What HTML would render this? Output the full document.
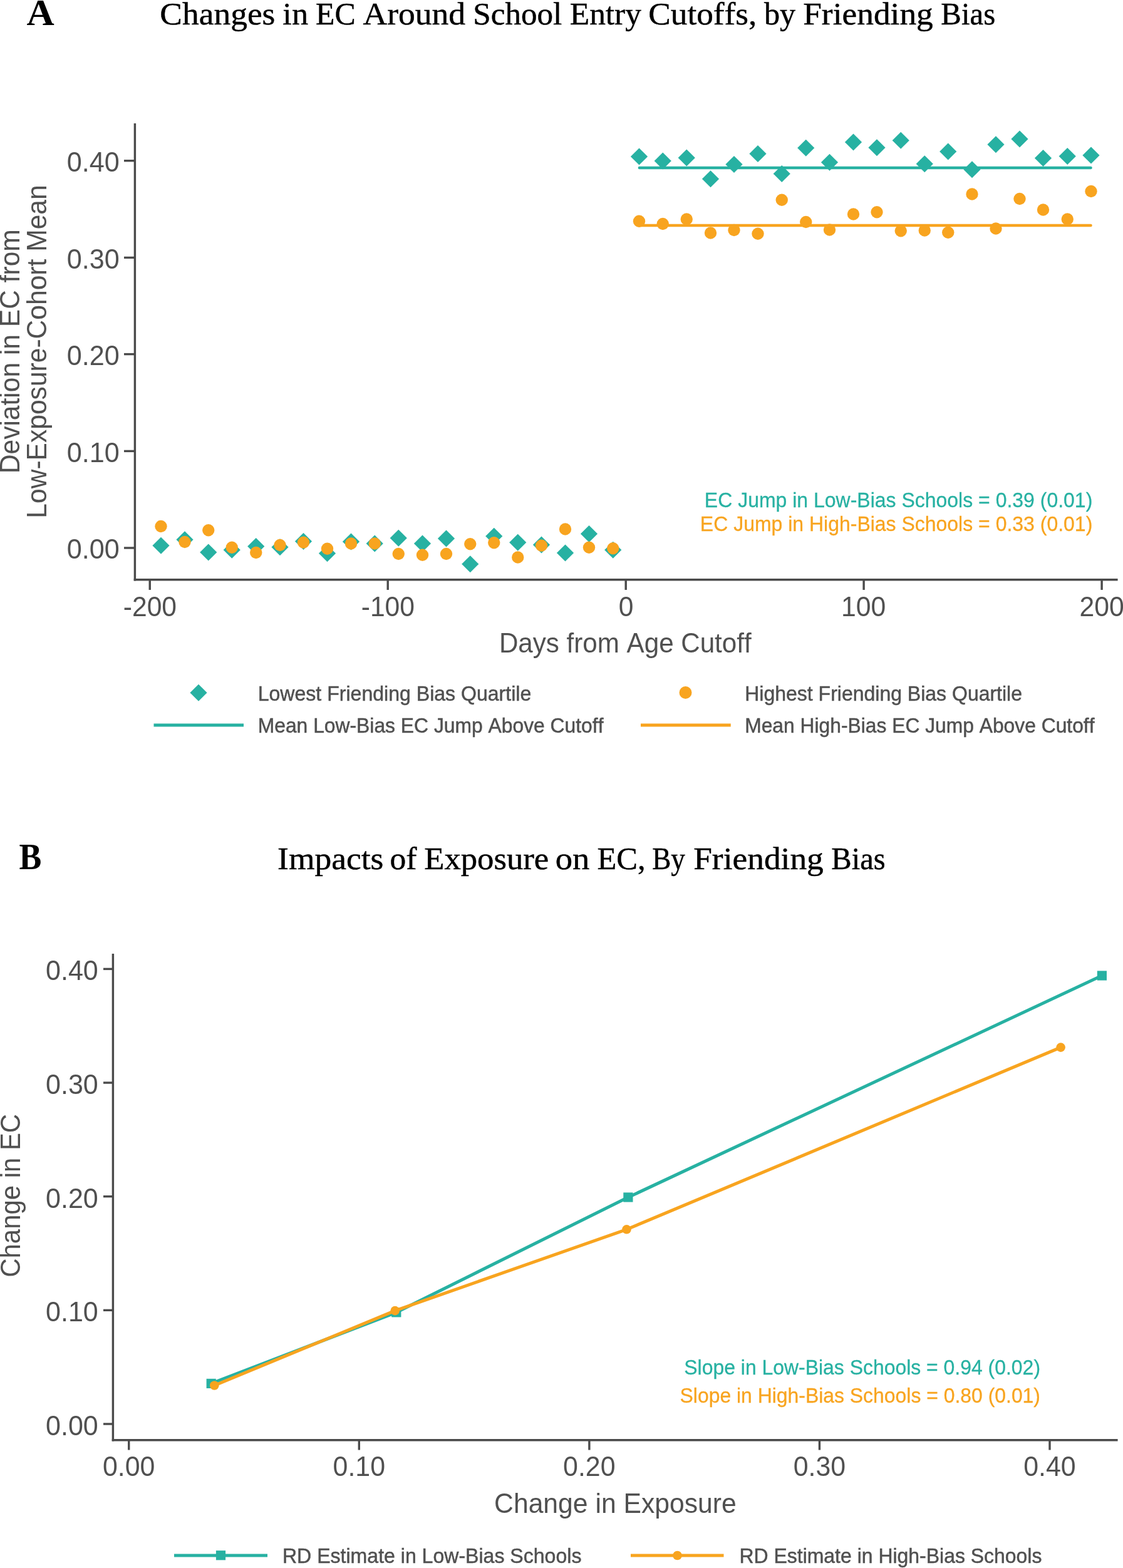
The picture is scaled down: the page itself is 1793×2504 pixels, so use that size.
<!DOCTYPE html>
<html><head><meta charset="utf-8"><title>Changes in EC Around School Entry Cutoffs, by Friending Bias</title>
<style>
html,body{margin:0;padding:0;background:#fff;}
body{width:1793px;height:2504px;overflow:hidden;}
svg{display:block;}
text{font-kerning:none;}
</style></head>
<body>
<svg width="1793" height="2504" viewBox="0 0 1793 2504">
<rect width="1793" height="2504" fill="#fff"/>
<text x="42.49" y="39.75" font-family="'Liberation Serif', 'Times New Roman', serif" font-weight="bold" font-size="60" fill="#000" textLength="44.20" lengthAdjust="spacingAndGlyphs">A</text>
<text x="255.30" y="39.30" font-family="'Liberation Serif', 'Times New Roman', serif" font-weight="normal" font-size="51" fill="#000" textLength="184.13" lengthAdjust="spacingAndGlyphs" stroke="#000" stroke-width="0.45">Changes</text>
<text x="451.37" y="39.30" font-family="'Liberation Serif', 'Times New Roman', serif" font-weight="normal" font-size="51" fill="#000" textLength="40.67" lengthAdjust="spacingAndGlyphs" stroke="#000" stroke-width="0.45">in</text>
<text x="504.03" y="39.30" font-family="'Liberation Serif', 'Times New Roman', serif" font-weight="normal" font-size="51" fill="#000" textLength="63.67" lengthAdjust="spacingAndGlyphs" stroke="#000" stroke-width="0.45">EC</text>
<text x="579.47" y="39.30" font-family="'Liberation Serif', 'Times New Roman', serif" font-weight="normal" font-size="51" fill="#000" textLength="163.67" lengthAdjust="spacingAndGlyphs" stroke="#000" stroke-width="0.45">Around</text>
<text x="755.35" y="39.30" font-family="'Liberation Serif', 'Times New Roman', serif" font-weight="normal" font-size="51" fill="#000" textLength="141.88" lengthAdjust="spacingAndGlyphs" stroke="#000" stroke-width="0.45">School</text>
<text x="909.74" y="39.30" font-family="'Liberation Serif', 'Times New Roman', serif" font-weight="normal" font-size="51" fill="#000" textLength="114.22" lengthAdjust="spacingAndGlyphs" stroke="#000" stroke-width="0.45">Entry</text>
<text x="1035.29" y="39.30" font-family="'Liberation Serif', 'Times New Roman', serif" font-weight="normal" font-size="51" fill="#000" textLength="173.09" lengthAdjust="spacingAndGlyphs" stroke="#000" stroke-width="0.45">Cutoffs,</text>
<text x="1220.00" y="39.30" font-family="'Liberation Serif', 'Times New Roman', serif" font-weight="normal" font-size="51" fill="#000" textLength="50.20" lengthAdjust="spacingAndGlyphs" stroke="#000" stroke-width="0.45">by</text>
<text x="1282.18" y="39.30" font-family="'Liberation Serif', 'Times New Roman', serif" font-weight="normal" font-size="51" fill="#000" textLength="207.64" lengthAdjust="spacingAndGlyphs" stroke="#000" stroke-width="0.45">Friending</text>
<text x="1502.31" y="39.30" font-family="'Liberation Serif', 'Times New Roman', serif" font-weight="normal" font-size="51" fill="#000" textLength="86.98" lengthAdjust="spacingAndGlyphs" stroke="#000" stroke-width="0.45">Bias</text>
<line x1="215.40" y1="197.00" x2="215.40" y2="927.50" stroke="#4a4a4a" stroke-width="3.4" stroke-linecap="butt"/>
<line x1="213.70" y1="925.80" x2="1784.60" y2="925.80" stroke="#4a4a4a" stroke-width="3.4" stroke-linecap="butt"/>
<line x1="198.00" y1="256.70" x2="215.00" y2="256.70" stroke="#4a4a4a" stroke-width="3.4" stroke-linecap="butt"/>
<text x="106.73" y="274.00" font-family="'Liberation Sans', Arial, sans-serif" font-weight="normal" font-size="44.0" fill="#505050" textLength="84.08" lengthAdjust="spacingAndGlyphs">0.40</text>
<line x1="198.00" y1="411.40" x2="215.00" y2="411.40" stroke="#4a4a4a" stroke-width="3.4" stroke-linecap="butt"/>
<text x="106.73" y="428.70" font-family="'Liberation Sans', Arial, sans-serif" font-weight="normal" font-size="44.0" fill="#505050" textLength="84.08" lengthAdjust="spacingAndGlyphs">0.30</text>
<line x1="198.00" y1="565.60" x2="215.00" y2="565.60" stroke="#4a4a4a" stroke-width="3.4" stroke-linecap="butt"/>
<text x="106.73" y="582.90" font-family="'Liberation Sans', Arial, sans-serif" font-weight="normal" font-size="44.0" fill="#505050" textLength="84.08" lengthAdjust="spacingAndGlyphs">0.20</text>
<line x1="198.00" y1="720.40" x2="215.00" y2="720.40" stroke="#4a4a4a" stroke-width="3.4" stroke-linecap="butt"/>
<text x="106.73" y="737.70" font-family="'Liberation Sans', Arial, sans-serif" font-weight="normal" font-size="44.0" fill="#505050" textLength="84.08" lengthAdjust="spacingAndGlyphs">0.10</text>
<line x1="198.00" y1="875.00" x2="215.00" y2="875.00" stroke="#4a4a4a" stroke-width="3.4" stroke-linecap="butt"/>
<text x="106.73" y="892.30" font-family="'Liberation Sans', Arial, sans-serif" font-weight="normal" font-size="44.0" fill="#505050" textLength="84.08" lengthAdjust="spacingAndGlyphs">0.00</text>
<line x1="239.25" y1="926.00" x2="239.25" y2="942.00" stroke="#4a4a4a" stroke-width="3.4" stroke-linecap="butt"/>
<text x="196.76" y="984.00" font-family="'Liberation Sans', Arial, sans-serif" font-weight="normal" font-size="44.0" fill="#505050" textLength="85.35" lengthAdjust="spacingAndGlyphs">-200</text>
<line x1="619.20" y1="926.00" x2="619.20" y2="942.00" stroke="#4a4a4a" stroke-width="3.4" stroke-linecap="butt"/>
<text x="576.71" y="984.00" font-family="'Liberation Sans', Arial, sans-serif" font-weight="normal" font-size="44.0" fill="#505050" textLength="85.35" lengthAdjust="spacingAndGlyphs">-100</text>
<line x1="999.20" y1="926.00" x2="999.20" y2="942.00" stroke="#4a4a4a" stroke-width="3.4" stroke-linecap="butt"/>
<text x="987.66" y="984.00" font-family="'Liberation Sans', Arial, sans-serif" font-weight="normal" font-size="44.0" fill="#505050" textLength="23.66" lengthAdjust="spacingAndGlyphs">0</text>
<line x1="1379.10" y1="926.00" x2="1379.10" y2="942.00" stroke="#4a4a4a" stroke-width="3.4" stroke-linecap="butt"/>
<text x="1343.00" y="984.00" font-family="'Liberation Sans', Arial, sans-serif" font-weight="normal" font-size="44.0" fill="#505050" textLength="71.26" lengthAdjust="spacingAndGlyphs">100</text>
<line x1="1759.10" y1="926.00" x2="1759.10" y2="942.00" stroke="#4a4a4a" stroke-width="3.4" stroke-linecap="butt"/>
<text x="1723.51" y="984.00" font-family="'Liberation Sans', Arial, sans-serif" font-weight="normal" font-size="44.0" fill="#505050" textLength="71.30" lengthAdjust="spacingAndGlyphs">200</text>
<text x="796.93" y="1042.20" font-family="'Liberation Sans', Arial, sans-serif" font-weight="normal" font-size="44.0" fill="#505050" textLength="402.76" lengthAdjust="spacingAndGlyphs">Days from Age Cutoff</text>
<text transform="rotate(-90)" x="-756.23" y="31.30" font-family="'Liberation Sans', Arial, sans-serif" font-weight="normal" font-size="44.0" fill="#505050" textLength="390.01" lengthAdjust="spacingAndGlyphs">Deviation in EC from</text>
<text transform="rotate(-90)" x="-827.68" y="73.60" font-family="'Liberation Sans', Arial, sans-serif" font-weight="normal" font-size="44.0" fill="#505050" textLength="532.35" lengthAdjust="spacingAndGlyphs">Low-Exposure-Cohort Mean</text>
<line x1="1021.00" y1="268.00" x2="1741.50" y2="268.00" stroke="#27b1a2" stroke-width="4.6" stroke-linecap="round"/>
<line x1="1021.00" y1="360.00" x2="1741.50" y2="360.00" stroke="#f8a41f" stroke-width="4.6" stroke-linecap="round"/>
<polygon points="257.00,857.65 270.60,871.25 257.00,884.85 243.40,871.25" fill="#27b1a2"/>
<polygon points="295.00,848.15 308.60,861.75 295.00,875.35 281.40,861.75" fill="#27b1a2"/>
<polygon points="332.75,868.40 346.35,882.00 332.75,895.60 319.15,882.00" fill="#27b1a2"/>
<polygon points="370.25,864.65 383.85,878.25 370.25,891.85 356.65,878.25" fill="#27b1a2"/>
<polygon points="408.75,858.90 422.35,872.50 408.75,886.10 395.15,872.50" fill="#27b1a2"/>
<polygon points="447.00,860.15 460.60,873.75 447.00,887.35 433.40,873.75" fill="#27b1a2"/>
<polygon points="484.50,850.90 498.10,864.50 484.50,878.10 470.90,864.50" fill="#27b1a2"/>
<polygon points="522.50,870.15 536.10,883.75 522.50,897.35 508.90,883.75" fill="#27b1a2"/>
<polygon points="560.50,851.40 574.10,865.00 560.50,878.60 546.90,865.00" fill="#27b1a2"/>
<polygon points="598.25,854.40 611.85,868.00 598.25,881.60 584.65,868.00" fill="#27b1a2"/>
<polygon points="636.25,845.65 649.85,859.25 636.25,872.85 622.65,859.25" fill="#27b1a2"/>
<polygon points="674.50,854.40 688.10,868.00 674.50,881.60 660.90,868.00" fill="#27b1a2"/>
<polygon points="712.50,846.40 726.10,860.00 712.50,873.60 698.90,860.00" fill="#27b1a2"/>
<polygon points="750.75,887.15 764.35,900.75 750.75,914.35 737.15,900.75" fill="#27b1a2"/>
<polygon points="788.75,842.65 802.35,856.25 788.75,869.85 775.15,856.25" fill="#27b1a2"/>
<polygon points="826.75,852.65 840.35,866.25 826.75,879.85 813.15,866.25" fill="#27b1a2"/>
<polygon points="864.50,856.40 878.10,870.00 864.50,883.60 850.90,870.00" fill="#27b1a2"/>
<polygon points="902.50,869.40 916.10,883.00 902.50,896.60 888.90,883.00" fill="#27b1a2"/>
<polygon points="940.50,838.90 954.10,852.50 940.50,866.10 926.90,852.50" fill="#27b1a2"/>
<polygon points="978.75,864.65 992.35,878.25 978.75,891.85 965.15,878.25" fill="#27b1a2"/>
<polygon points="1020.50,236.40 1034.10,250.00 1020.50,263.60 1006.90,250.00" fill="#27b1a2"/>
<polygon points="1058.25,243.40 1071.85,257.00 1058.25,270.60 1044.65,257.00" fill="#27b1a2"/>
<polygon points="1096.25,238.40 1109.85,252.00 1096.25,265.60 1082.65,252.00" fill="#27b1a2"/>
<polygon points="1134.50,272.15 1148.10,285.75 1134.50,299.35 1120.90,285.75" fill="#27b1a2"/>
<polygon points="1172.00,248.90 1185.60,262.50 1172.00,276.10 1158.40,262.50" fill="#27b1a2"/>
<polygon points="1210.00,231.90 1223.60,245.50 1210.00,259.10 1196.40,245.50" fill="#27b1a2"/>
<polygon points="1248.25,263.90 1261.85,277.50 1248.25,291.10 1234.65,277.50" fill="#27b1a2"/>
<polygon points="1286.75,222.65 1300.35,236.25 1286.75,249.85 1273.15,236.25" fill="#27b1a2"/>
<polygon points="1324.50,245.65 1338.10,259.25 1324.50,272.85 1310.90,259.25" fill="#27b1a2"/>
<polygon points="1362.50,213.40 1376.10,227.00 1362.50,240.60 1348.90,227.00" fill="#27b1a2"/>
<polygon points="1400.00,222.15 1413.60,235.75 1400.00,249.35 1386.40,235.75" fill="#27b1a2"/>
<polygon points="1438.25,210.65 1451.85,224.25 1438.25,237.85 1424.65,224.25" fill="#27b1a2"/>
<polygon points="1476.25,248.15 1489.85,261.75 1476.25,275.35 1462.65,261.75" fill="#27b1a2"/>
<polygon points="1513.75,228.40 1527.35,242.00 1513.75,255.60 1500.15,242.00" fill="#27b1a2"/>
<polygon points="1552.00,257.15 1565.60,270.75 1552.00,284.35 1538.40,270.75" fill="#27b1a2"/>
<polygon points="1590.00,217.15 1603.60,230.75 1590.00,244.35 1576.40,230.75" fill="#27b1a2"/>
<polygon points="1628.00,208.40 1641.60,222.00 1628.00,235.60 1614.40,222.00" fill="#27b1a2"/>
<polygon points="1665.50,238.90 1679.10,252.50 1665.50,266.10 1651.90,252.50" fill="#27b1a2"/>
<polygon points="1704.25,235.90 1717.85,249.50 1704.25,263.10 1690.65,249.50" fill="#27b1a2"/>
<polygon points="1742.00,234.40 1755.60,248.00 1742.00,261.60 1728.40,248.00" fill="#27b1a2"/>
<circle cx="257.00" cy="840.50" r="9.7" fill="#f8a41f"/>
<circle cx="295.00" cy="865.50" r="9.7" fill="#f8a41f"/>
<circle cx="332.75" cy="846.75" r="9.7" fill="#f8a41f"/>
<circle cx="370.25" cy="874.25" r="9.7" fill="#f8a41f"/>
<circle cx="408.75" cy="882.50" r="9.7" fill="#f8a41f"/>
<circle cx="447.00" cy="870.50" r="9.7" fill="#f8a41f"/>
<circle cx="484.50" cy="866.25" r="9.7" fill="#f8a41f"/>
<circle cx="522.50" cy="876.25" r="9.7" fill="#f8a41f"/>
<circle cx="560.50" cy="868.00" r="9.7" fill="#f8a41f"/>
<circle cx="598.25" cy="868.00" r="9.7" fill="#f8a41f"/>
<circle cx="636.25" cy="884.50" r="9.7" fill="#f8a41f"/>
<circle cx="674.50" cy="886.25" r="9.7" fill="#f8a41f"/>
<circle cx="712.50" cy="884.50" r="9.7" fill="#f8a41f"/>
<circle cx="750.75" cy="868.75" r="9.7" fill="#f8a41f"/>
<circle cx="788.75" cy="866.75" r="9.7" fill="#f8a41f"/>
<circle cx="826.75" cy="890.00" r="9.7" fill="#f8a41f"/>
<circle cx="864.50" cy="871.25" r="9.7" fill="#f8a41f"/>
<circle cx="902.50" cy="845.00" r="9.7" fill="#f8a41f"/>
<circle cx="940.50" cy="874.25" r="9.7" fill="#f8a41f"/>
<circle cx="978.75" cy="875.75" r="9.7" fill="#f8a41f"/>
<circle cx="1020.50" cy="353.25" r="9.7" fill="#f8a41f"/>
<circle cx="1058.25" cy="357.50" r="9.7" fill="#f8a41f"/>
<circle cx="1096.25" cy="350.00" r="9.7" fill="#f8a41f"/>
<circle cx="1134.50" cy="372.00" r="9.7" fill="#f8a41f"/>
<circle cx="1172.00" cy="367.50" r="9.7" fill="#f8a41f"/>
<circle cx="1210.00" cy="373.25" r="9.7" fill="#f8a41f"/>
<circle cx="1248.25" cy="319.25" r="9.7" fill="#f8a41f"/>
<circle cx="1286.75" cy="354.50" r="9.7" fill="#f8a41f"/>
<circle cx="1324.50" cy="367.00" r="9.7" fill="#f8a41f"/>
<circle cx="1362.50" cy="342.00" r="9.7" fill="#f8a41f"/>
<circle cx="1400.00" cy="338.75" r="9.7" fill="#f8a41f"/>
<circle cx="1438.25" cy="368.75" r="9.7" fill="#f8a41f"/>
<circle cx="1476.25" cy="368.00" r="9.7" fill="#f8a41f"/>
<circle cx="1513.75" cy="371.25" r="9.7" fill="#f8a41f"/>
<circle cx="1552.00" cy="310.00" r="9.7" fill="#f8a41f"/>
<circle cx="1590.00" cy="365.00" r="9.7" fill="#f8a41f"/>
<circle cx="1628.00" cy="317.50" r="9.7" fill="#f8a41f"/>
<circle cx="1665.50" cy="335.00" r="9.7" fill="#f8a41f"/>
<circle cx="1704.25" cy="350.00" r="9.7" fill="#f8a41f"/>
<circle cx="1742.00" cy="305.50" r="9.7" fill="#f8a41f"/>
<text x="1124.87" y="809.50" font-family="'Liberation Sans', Arial, sans-serif" font-weight="normal" font-size="32.8" fill="#27b1a2" textLength="619.45" lengthAdjust="spacingAndGlyphs" stroke="#27b1a2" stroke-width="0.3">EC Jump in Low-Bias Schools = 0.39 (0.01)</text>
<text x="1117.87" y="848.40" font-family="'Liberation Sans', Arial, sans-serif" font-weight="normal" font-size="32.8" fill="#f8a41f" textLength="626.43" lengthAdjust="spacingAndGlyphs" stroke="#f8a41f" stroke-width="0.3">EC Jump in High-Bias Schools = 0.33 (0.01)</text>
<polygon points="317.00,1092.65 330.60,1106.25 317.00,1119.85 303.40,1106.25" fill="#27b1a2"/>
<line x1="245.50" y1="1158.00" x2="389.00" y2="1158.00" stroke="#27b1a2" stroke-width="5" stroke-linecap="butt"/>
<text x="411.71" y="1118.75" font-family="'Liberation Sans', Arial, sans-serif" font-weight="normal" font-size="32.8" fill="#505050" textLength="436.57" lengthAdjust="spacingAndGlyphs" stroke="#505050" stroke-width="0.5">Lowest Friending Bias Quartile</text>
<text x="411.72" y="1170.00" font-family="'Liberation Sans', Arial, sans-serif" font-weight="normal" font-size="32.8" fill="#505050" textLength="551.78" lengthAdjust="spacingAndGlyphs" stroke="#505050" stroke-width="0.5">Mean Low-Bias EC Jump Above Cutoff</text>
<circle cx="1094.50" cy="1106.00" r="10" fill="#f8a41f"/>
<line x1="1023.00" y1="1158.00" x2="1166.75" y2="1158.00" stroke="#f8a41f" stroke-width="5" stroke-linecap="butt"/>
<text x="1189.22" y="1118.75" font-family="'Liberation Sans', Arial, sans-serif" font-weight="normal" font-size="32.8" fill="#505050" textLength="442.80" lengthAdjust="spacingAndGlyphs" stroke="#505050" stroke-width="0.5">Highest Friending Bias Quartile</text>
<text x="1189.22" y="1170.00" font-family="'Liberation Sans', Arial, sans-serif" font-weight="normal" font-size="32.8" fill="#505050" textLength="558.27" lengthAdjust="spacingAndGlyphs" stroke="#505050" stroke-width="0.5">Mean High-Bias EC Jump Above Cutoff</text>
<text x="30.60" y="1388.10" font-family="'Liberation Serif', 'Times New Roman', serif" font-weight="bold" font-size="60" fill="#000" textLength="35.85" lengthAdjust="spacingAndGlyphs">B</text>
<text x="443.11" y="1388.00" font-family="'Liberation Serif', 'Times New Roman', serif" font-weight="normal" font-size="51" fill="#000" textLength="169.32" lengthAdjust="spacingAndGlyphs" stroke="#000" stroke-width="0.45">Impacts</text>
<text x="622.58" y="1388.00" font-family="'Liberation Serif', 'Times New Roman', serif" font-weight="normal" font-size="51" fill="#000" textLength="42.90" lengthAdjust="spacingAndGlyphs" stroke="#000" stroke-width="0.45">of</text>
<text x="677.20" y="1388.00" font-family="'Liberation Serif', 'Times New Roman', serif" font-weight="normal" font-size="51" fill="#000" textLength="199.08" lengthAdjust="spacingAndGlyphs" stroke="#000" stroke-width="0.45">Exposure</text>
<text x="886.71" y="1388.00" font-family="'Liberation Serif', 'Times New Roman', serif" font-weight="normal" font-size="51" fill="#000" textLength="54.64" lengthAdjust="spacingAndGlyphs" stroke="#000" stroke-width="0.45">on</text>
<text x="953.51" y="1388.00" font-family="'Liberation Serif', 'Times New Roman', serif" font-weight="normal" font-size="51" fill="#000" textLength="77.18" lengthAdjust="spacingAndGlyphs" stroke="#000" stroke-width="0.45">EC,</text>
<text x="1041.17" y="1388.00" font-family="'Liberation Serif', 'Times New Roman', serif" font-weight="normal" font-size="51" fill="#000" textLength="52.77" lengthAdjust="spacingAndGlyphs" stroke="#000" stroke-width="0.45">By</text>
<text x="1107.18" y="1388.00" font-family="'Liberation Serif', 'Times New Roman', serif" font-weight="normal" font-size="51" fill="#000" textLength="207.64" lengthAdjust="spacingAndGlyphs" stroke="#000" stroke-width="0.45">Friending</text>
<text x="1327.32" y="1388.00" font-family="'Liberation Serif', 'Times New Roman', serif" font-weight="normal" font-size="51" fill="#000" textLength="86.46" lengthAdjust="spacingAndGlyphs" stroke="#000" stroke-width="0.45">Bias</text>
<line x1="180.40" y1="1523.00" x2="180.40" y2="2301.40" stroke="#4a4a4a" stroke-width="3.4" stroke-linecap="butt"/>
<line x1="178.70" y1="2299.70" x2="1784.60" y2="2299.70" stroke="#4a4a4a" stroke-width="3.4" stroke-linecap="butt"/>
<line x1="165.00" y1="2274.00" x2="180.00" y2="2274.00" stroke="#4a4a4a" stroke-width="3.4" stroke-linecap="butt"/>
<text x="73.04" y="2292.00" font-family="'Liberation Sans', Arial, sans-serif" font-weight="normal" font-size="44.0" fill="#505050" textLength="83.76" lengthAdjust="spacingAndGlyphs">0.00</text>
<line x1="165.00" y1="2092.35" x2="180.00" y2="2092.35" stroke="#4a4a4a" stroke-width="3.4" stroke-linecap="butt"/>
<text x="73.04" y="2110.35" font-family="'Liberation Sans', Arial, sans-serif" font-weight="normal" font-size="44.0" fill="#505050" textLength="83.76" lengthAdjust="spacingAndGlyphs">0.10</text>
<line x1="165.00" y1="1910.70" x2="180.00" y2="1910.70" stroke="#4a4a4a" stroke-width="3.4" stroke-linecap="butt"/>
<text x="73.04" y="1928.70" font-family="'Liberation Sans', Arial, sans-serif" font-weight="normal" font-size="44.0" fill="#505050" textLength="83.76" lengthAdjust="spacingAndGlyphs">0.20</text>
<line x1="165.00" y1="1729.05" x2="180.00" y2="1729.05" stroke="#4a4a4a" stroke-width="3.4" stroke-linecap="butt"/>
<text x="73.04" y="1747.05" font-family="'Liberation Sans', Arial, sans-serif" font-weight="normal" font-size="44.0" fill="#505050" textLength="83.76" lengthAdjust="spacingAndGlyphs">0.30</text>
<line x1="165.00" y1="1547.40" x2="180.00" y2="1547.40" stroke="#4a4a4a" stroke-width="3.4" stroke-linecap="butt"/>
<text x="73.04" y="1565.40" font-family="'Liberation Sans', Arial, sans-serif" font-weight="normal" font-size="44.0" fill="#505050" textLength="83.76" lengthAdjust="spacingAndGlyphs">0.40</text>
<line x1="205.75" y1="2300.00" x2="205.75" y2="2315.50" stroke="#4a4a4a" stroke-width="3.4" stroke-linecap="butt"/>
<text x="163.99" y="2357.20" font-family="'Liberation Sans', Arial, sans-serif" font-weight="normal" font-size="44.0" fill="#505050" textLength="83.45" lengthAdjust="spacingAndGlyphs">0.00</text>
<line x1="573.31" y1="2300.00" x2="573.31" y2="2315.50" stroke="#4a4a4a" stroke-width="3.4" stroke-linecap="butt"/>
<text x="531.55" y="2357.20" font-family="'Liberation Sans', Arial, sans-serif" font-weight="normal" font-size="44.0" fill="#505050" textLength="83.45" lengthAdjust="spacingAndGlyphs">0.10</text>
<line x1="940.87" y1="2300.00" x2="940.87" y2="2315.50" stroke="#4a4a4a" stroke-width="3.4" stroke-linecap="butt"/>
<text x="899.11" y="2357.20" font-family="'Liberation Sans', Arial, sans-serif" font-weight="normal" font-size="44.0" fill="#505050" textLength="83.45" lengthAdjust="spacingAndGlyphs">0.20</text>
<line x1="1308.43" y1="2300.00" x2="1308.43" y2="2315.50" stroke="#4a4a4a" stroke-width="3.4" stroke-linecap="butt"/>
<text x="1266.67" y="2357.20" font-family="'Liberation Sans', Arial, sans-serif" font-weight="normal" font-size="44.0" fill="#505050" textLength="83.45" lengthAdjust="spacingAndGlyphs">0.30</text>
<line x1="1675.99" y1="2300.00" x2="1675.99" y2="2315.50" stroke="#4a4a4a" stroke-width="3.4" stroke-linecap="butt"/>
<text x="1634.23" y="2357.20" font-family="'Liberation Sans', Arial, sans-serif" font-weight="normal" font-size="44.0" fill="#505050" textLength="83.45" lengthAdjust="spacingAndGlyphs">0.40</text>
<text x="789.12" y="2415.80" font-family="'Liberation Sans', Arial, sans-serif" font-weight="normal" font-size="44.0" fill="#505050" textLength="386.58" lengthAdjust="spacingAndGlyphs">Change in Exposure</text>
<text transform="rotate(-90)" x="-2039.69" y="31.70" font-family="'Liberation Sans', Arial, sans-serif" font-weight="normal" font-size="44.0" fill="#505050" textLength="260.76" lengthAdjust="spacingAndGlyphs">Change in EC</text>
<polyline points="337.2,2209.4 632.8,2095.8 1002.9,1912.0 1759.4,1558.0" fill="none" stroke="#27b1a2" stroke-width="5" stroke-linejoin="round" stroke-linecap="round"/>
<rect x="329.60" y="2201.80" width="15.2" height="15.2" fill="#27b1a2"/>
<rect x="625.20" y="2088.20" width="15.2" height="15.2" fill="#27b1a2"/>
<rect x="995.30" y="1904.40" width="15.2" height="15.2" fill="#27b1a2"/>
<rect x="1751.80" y="1550.40" width="15.2" height="15.2" fill="#27b1a2"/>
<polyline points="342.3,2212.5 630.7,2093.1 1000.5,1963.3 1693.6,1672.6" fill="none" stroke="#f8a41f" stroke-width="5" stroke-linejoin="round" stroke-linecap="round"/>
<circle cx="342.30" cy="2212.50" r="7.3" fill="#f8a41f"/>
<circle cx="630.70" cy="2093.10" r="7.3" fill="#f8a41f"/>
<circle cx="1000.50" cy="1963.30" r="7.3" fill="#f8a41f"/>
<circle cx="1693.60" cy="1672.60" r="7.3" fill="#f8a41f"/>
<text x="1092.29" y="2195.00" font-family="'Liberation Sans', Arial, sans-serif" font-weight="normal" font-size="32.8" fill="#27b1a2" textLength="568.73" lengthAdjust="spacingAndGlyphs" stroke="#27b1a2" stroke-width="0.3">Slope in Low-Bias Schools = 0.94 (0.02)</text>
<text x="1085.54" y="2240.00" font-family="'Liberation Sans', Arial, sans-serif" font-weight="normal" font-size="32.8" fill="#f8a41f" textLength="575.46" lengthAdjust="spacingAndGlyphs" stroke="#f8a41f" stroke-width="0.3">Slope in High-Bias Schools = 0.80 (0.01)</text>
<line x1="278.00" y1="2484.00" x2="427.00" y2="2484.00" stroke="#27b1a2" stroke-width="5" stroke-linecap="butt"/>
<rect x="344.90" y="2476.15" width="15.2" height="15.2" fill="#27b1a2"/>
<text x="450.96" y="2495.50" font-family="'Liberation Sans', Arial, sans-serif" font-weight="normal" font-size="32.8" fill="#505050" textLength="477.46" lengthAdjust="spacingAndGlyphs" stroke="#505050" stroke-width="0.5">RD Estimate in Low-Bias Schools</text>
<line x1="1007.00" y1="2484.00" x2="1155.50" y2="2484.00" stroke="#f8a41f" stroke-width="5" stroke-linecap="butt"/>
<circle cx="1081.50" cy="2484.00" r="7.3" fill="#f8a41f"/>
<text x="1180.47" y="2495.50" font-family="'Liberation Sans', Arial, sans-serif" font-weight="normal" font-size="32.8" fill="#505050" textLength="482.93" lengthAdjust="spacingAndGlyphs" stroke="#505050" stroke-width="0.5">RD Estimate in High-Bias Schools</text>
</svg>
</body></html>
